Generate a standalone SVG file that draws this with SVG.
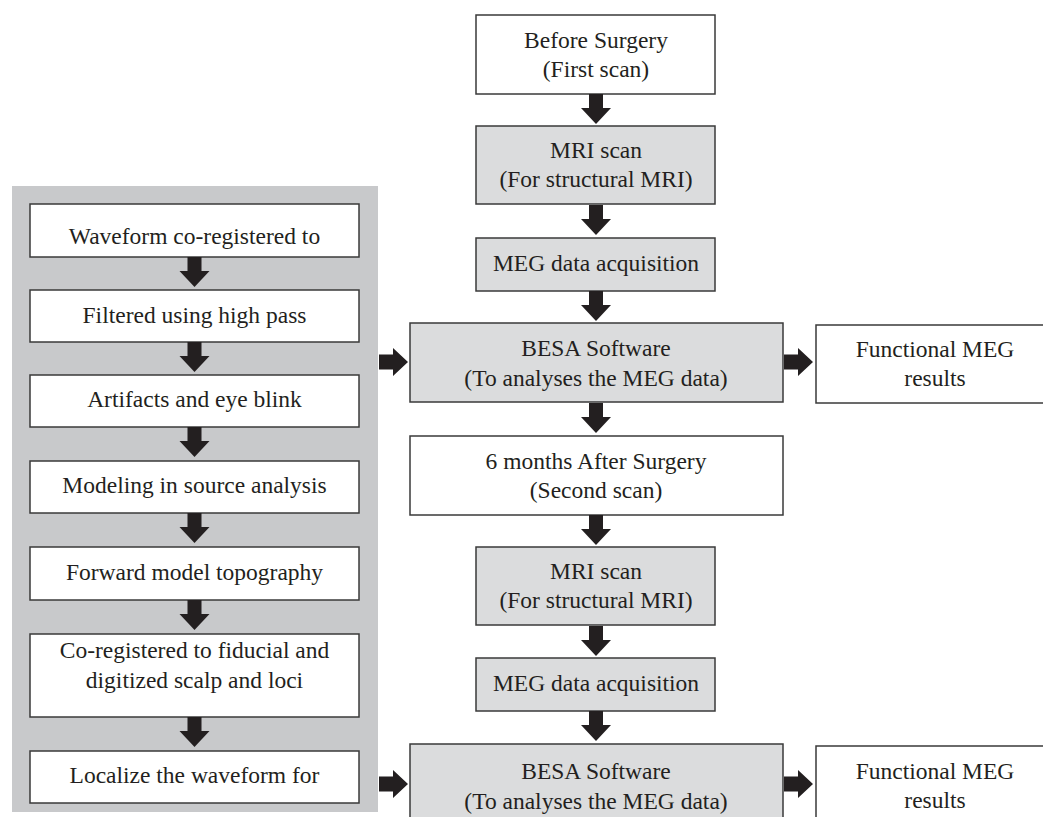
<svg xmlns="http://www.w3.org/2000/svg" width="1043" height="817" viewBox="0 0 1043 817">
<style>
.w{fill:#ffffff;stroke:#3a3a3a;stroke-width:1.5}
.g{fill:#dbdcdd;stroke:#3a3a3a;stroke-width:1.5}
text{font-family:"Liberation Serif","Times New Roman",serif;font-size:23.5px;fill:#231f20;text-anchor:middle}
.ar{fill:#231f20}
</style>
<defs>
<path id="va" d="M-7,0 H7 V14 H15 L0,30 L-15,14 H-7 Z"/>
<path id="ha" d="M0,-7.5 H14 V-14 L29,0 L14,14 V7.5 H0 Z"/>
</defs>
<rect width="1043" height="817" fill="#ffffff"/>
<rect id="panel" x="12" y="186" width="366" height="626" fill="#c8c9cb"/>

<g id="n1"><rect class="w" x="476" y="15" width="239" height="79"/><text x="596" y="48">Before Surgery</text><text x="596" y="77">(First scan)</text></g>
<g id="n2"><rect class="g" x="476" y="126" width="239" height="78"/><text x="596" y="158">MRI scan</text><text x="596" y="187">(For structural MRI)</text></g>
<g id="n3"><rect class="g" x="476" y="238" width="239" height="53"/><text x="596" y="271">MEG data acquisition</text></g>
<g id="n4"><rect class="g" x="410" y="323" width="373" height="79"/><text x="596" y="356">BESA Software</text><text x="596" y="386">(To analyses the MEG data)</text></g>
<g id="n5"><rect class="w" x="816" y="325" width="238" height="78"/><text x="935" y="357">Functional MEG</text><text x="935" y="386">results</text></g>
<g id="n6"><rect class="w" x="410" y="436" width="373" height="79"/><text x="596" y="469">6 months After Surgery</text><text x="596" y="498">(Second scan)</text></g>
<g id="n7"><rect class="g" x="476" y="547" width="239" height="78"/><text x="596" y="579">MRI scan</text><text x="596" y="608">(For structural MRI)</text></g>
<g id="n8"><rect class="g" x="476" y="658" width="239" height="53"/><text x="596" y="691">MEG data acquisition</text></g>
<g id="n9"><rect class="g" x="410" y="744" width="373" height="79"/><text x="596" y="779">BESA Software</text><text x="596" y="809">(To analyses the MEG data)</text></g>
<g id="n10"><rect class="w" x="816" y="746" width="238" height="78"/><text x="935" y="779">Functional MEG</text><text x="935" y="808">results</text></g>

<g id="l1"><rect class="w" x="30" y="204" width="329" height="53"/><text x="194.5" y="244">Waveform co-registered to</text></g>
<g id="l2"><rect class="w" x="30" y="290" width="329" height="52"/><text x="194.5" y="323">Filtered using high pass</text></g>
<g id="l3"><rect class="w" x="30" y="375" width="329" height="52"/><text x="194.5" y="407">Artifacts and eye blink</text></g>
<g id="l4"><rect class="w" x="30" y="461" width="329" height="52"/><text x="194.5" y="493">Modeling in source analysis</text></g>
<g id="l5"><rect class="w" x="30" y="547" width="329" height="53"/><text x="194.5" y="580">Forward model topography</text></g>
<g id="l6"><rect class="w" x="30" y="634" width="329" height="83"/><text x="194.5" y="658">Co-registered to fiducial and</text><text x="194.5" y="688">digitized scalp and loci</text></g>
<g id="l7"><rect class="w" x="30" y="751" width="329" height="52"/><text x="194.5" y="783">Localize the waveform for</text></g>

<g id="connectors" class="ar">
<use href="#va" x="596" y="94"/>
<use href="#va" x="596" y="205"/>
<use href="#va" x="596" y="291"/>
<use href="#va" x="596" y="403"/>
<use href="#va" x="596" y="515"/>
<use href="#va" x="596" y="626"/>
<use href="#va" x="596" y="711"/>
<use href="#va" x="194.5" y="257"/>
<use href="#va" x="194.5" y="342"/>
<use href="#va" x="194.5" y="427"/>
<use href="#va" x="194.5" y="513"/>
<use href="#va" x="194.5" y="600"/>
<use href="#va" x="194.5" y="717"/>
<use href="#ha" x="379" y="362"/>
<use href="#ha" x="784" y="362"/>
<use href="#ha" x="379" y="784"/>
<use href="#ha" x="784" y="784"/>
</g>
</svg>
